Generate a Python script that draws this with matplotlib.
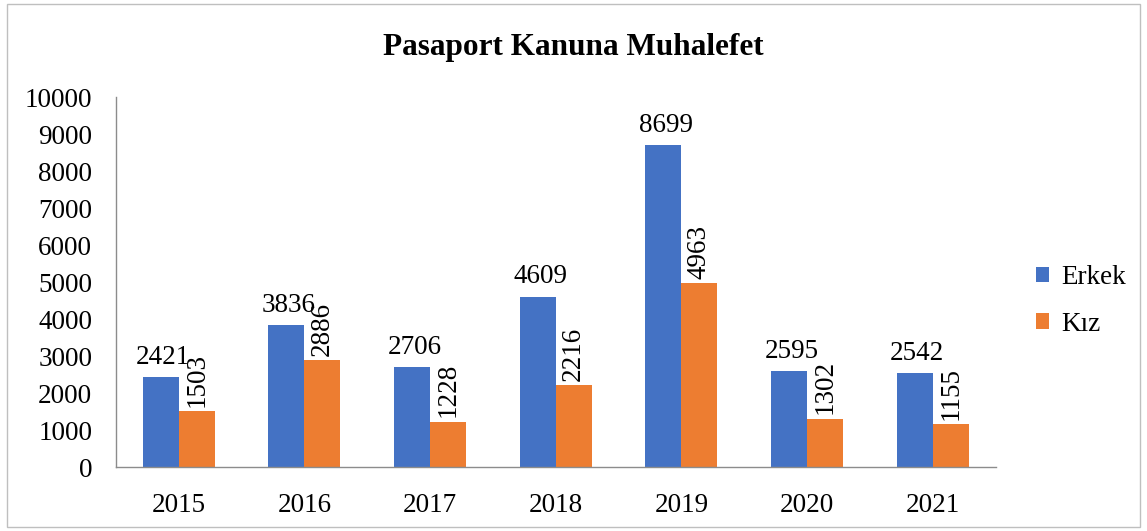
import matplotlib.pyplot as plt
import numpy as np
from matplotlib.patches import Rectangle

plt.rcParams['font.family'] = ['Liberation Serif', 'DejaVu Serif']

years = ['2015', '2016', '2017', '2018', '2019', '2020', '2021']
erkek = [2421, 3836, 2706, 4609, 8699, 2595, 2542]
kiz = [1503, 2886, 1228, 2216, 4963, 1302, 1155]

BLUE = '#4472C4'
ORANGE = '#ED7D31'
FS = 19.5

fig = plt.figure(figsize=(11.47, 5.31), dpi=100)
ax = fig.add_axes([0.101, 0.1205, 0.767, 0.6965])

x = np.arange(len(years))
w = 0.286
ax.bar(x - w / 2, erkek, w, color=BLUE, label='Erkek')
ax.bar(x + w / 2, kiz, w, color=ORANGE, label='Kız')

for xi, v in zip(x, erkek):
    ax.text(xi - w / 2 + 0.02, v + 200, str(v), ha='center', va='bottom', fontsize=FS)
for xi, v in zip(x, kiz):
    ax.text(xi + w / 2, v + 120, str(v), ha='center', va='bottom',
            rotation=90, fontsize=FS)

ax.set_xlim(-0.5, len(years) - 0.5)
ax.set_ylim(0, 10000)
ax.set_yticks(range(0, 10001, 1000))
ax.set_xticks(x)
ax.set_xticklabels(years)
ax.tick_params(length=0, labelsize=FS, colors='black')
ax.tick_params(axis='x', pad=19)
ax.tick_params(axis='y', pad=17)
for s in ['top', 'right']:
    ax.spines[s].set_visible(False)
for s in ['left', 'bottom']:
    ax.spines[s].set_color('#8c8c8c')
    ax.spines[s].set_linewidth(1)

fig.text(0.5, 0.91, 'Pasaport Kanuna Muhalefet', ha='center', va='center',
         fontsize=22.5, fontweight='bold')

ax.legend(loc='center left', bbox_to_anchor=(1.018, 0.449), frameon=False,
          fontsize=FS, handlelength=0.5, handleheight=0.5, handletextpad=0.45,
          labelspacing=0.8)

fig.patches.append(Rectangle((0.006, 0.008), 0.988, 0.984, transform=fig.transFigure,
                             fill=False, edgecolor='#bfbfbf', linewidth=1))

fig.savefig('out.png', dpi=100)
